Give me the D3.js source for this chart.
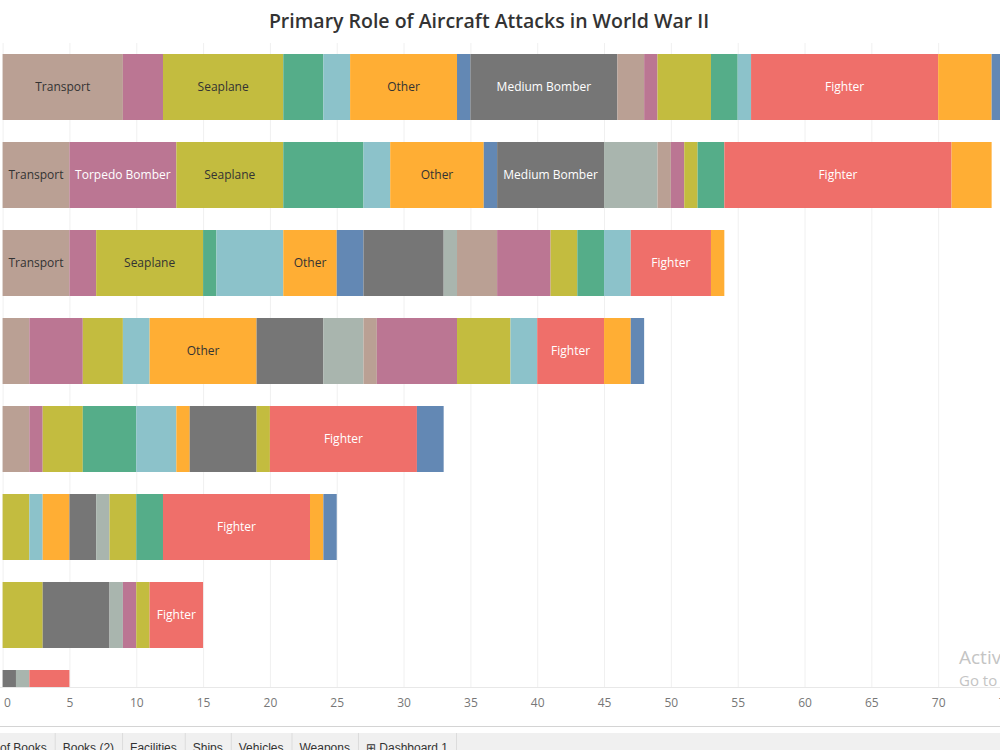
<!DOCTYPE html>
<meta charset="utf-8">
<script src="https://d3js.org/d3.v7.min.js"></script>
<style>
  body { margin: 0; background: #fff; overflow: hidden; }
</style>
<div id="chart"></div>
<script>
  // roles, in the order they are stacked from the left
  const roles = ["Transport", "Torpedo Bomber", "Seaplane", "Reconnaissance", "Patrol Bomber", "Other",
    "Night Fighter", "Medium Bomber", "Light Bomber", "Liaison", "Kamikaze", "Heavy Bomber",
    "Ground Attack", "Flying Boat", "Fighter", "Dive Bomber", "Bomber"];
  const roleColors = ["#baa094", "#bb7693", "#c3bc3f", "#55ad89", "#8cc2ca", "#ffae34",
    "#6388b4", "#767676", "#a9b5ae", "#baa094", "#bb7693", "#c3bc3f",
    "#55ad89", "#8cc2ca", "#ef6f6a", "#ffae34", "#6388b4"];
  // only these get a mark label (when it fits)
  const labelledRoles = ["Transport", "Torpedo Bomber", "Seaplane", "Other", "Medium Bomber", "Fighter"];

  // attacks per role, one array per bar (top to bottom), same order as roles
  const bar1 = [9, 3, 9, 3, 2, 8, 1, 11, 0, 2, 1, 4, 2, 1, 14, 4, 1];
  const bar2 = [5, 8, 8, 6, 2, 7, 1, 8, 4, 1, 1, 1, 2, 0, 17, 3, 0];
  const bar3 = [5, 2, 8, 1, 5, 4, 2, 6, 1, 3, 4, 2, 2, 2, 6, 1, 0];
  const bar4 = [2, 4, 3, 0, 2, 8, 0, 5, 3, 1, 6, 4, 0, 2, 5, 2, 1];
  const bar5 = [2, 1, 3, 4, 3, 1, 0, 5, 0, 0, 0, 1, 0, 0, 11, 0, 2];
  const bar6 = [0, 0, 2, 0, 1, 2, 0, 2, 1, 0, 0, 2, 2, 0, 11, 1, 1];
  const bar7 = [0, 0, 3, 0, 0, 0, 0, 5, 1, 0, 1, 1, 0, 0, 4, 0, 0];
  const bar8 = [0, 0, 0, 0, 0, 0, 0, 1, 1, 0, 0, 0, 0, 0, 3, 0, 0];
  const bars = [bar1, bar2, bar3, bar4, bar5, bar6, bar7, bar8];

  const xTicks = [0, 5, 10, 15, 20, 25, 30, 35, 40, 45, 50, 55, 60, 65, 70, 75];
  const tabs = ["of Books", "Books (2)", "Facilities", "Ships", "Vehicles", "Weapons", "\u229e Dashboard 1"];

  const width = 1000, height = 750;
  const plotTop = 43, plotBottom = 687;

  const svg = d3.select("#chart")
    .append("svg")
    .attr("width", width)
    .attr("height", height)
    .style("font-family", "'Open Sans', sans-serif");

  const x = d3.scaleLinear().domain([0, 75]).range([2.6, 1005]);
  const y = d3.scaleBand()
    .domain(d3.range(bars.length))
    .range([plotTop, plotTop + 88 * bars.length])
    .paddingInner(0.25)
    .paddingOuter(0.125);
  const color = d3.scaleOrdinal().domain(roles).range(roleColors);

  // title
  svg.append("text")
    .attr("x", 489)
    .attr("y", 28)
    .attr("text-anchor", "middle")
    .style("font-size", "19.5px")
    .style("font-weight", 600)
    .style("fill", "#333")
    .text("Primary Role of Aircraft Attacks in World War II");

  svg.append("clipPath").attr("id", "plot")
    .append("rect")
    .attr("x", 0).attr("y", plotTop)
    .attr("width", width).attr("height", plotBottom - plotTop);

  // grid lines
  svg.append("g")
    .selectAll("line")
    .data(xTicks)
    .join("line")
    .attr("x1", d => x(d) + 0.5).attr("x2", d => x(d) + 0.5)
    .attr("y1", plotTop).attr("y2", plotBottom)
    .attr("stroke", "#f0f0f0");

  // stacked bars
  const rows = bars.map(b => Object.fromEntries(roles.map((r, i) => [r, b[i]])));
  const series = d3.stack().keys(roles)(rows);

  const plot = svg.append("g").attr("clip-path", "url(#plot)");

  const seg = plot.selectAll("g")
    .data(series)
    .join("g")
    .attr("fill", s => color(s.key))
    .selectAll("g")
    .data(s => s.map((d, i) => ({ key: s.key, x0: d[0], x1: d[1], row: i })).filter(d => d.x1 > d.x0))
    .join("g");

  seg.append("rect")
    .attr("x", d => x(d.x0))
    .attr("y", d => y(d.row))
    .attr("width", d => x(d.x1) - x(d.x0))
    .attr("height", y.bandwidth());

  // mark labels
  seg.filter(d => labelledRoles.includes(d.key))
    .append("text")
    .attr("x", d => (x(d.x0) + x(d.x1)) / 2)
    .attr("y", d => y(d.row) + y.bandwidth() / 2)
    .attr("dy", "0.35em")
    .attr("text-anchor", "middle")
    .style("font-size", "12px")
    .style("fill", d => d3.lab(color(d.key)).l < 65 ? "#fff" : "#333")
    .text(d => d.key)
    .each(function (d) {
      const w = this.getComputedTextLength();
      if (w + 8 > x(d.x1) - x(d.x0)) d3.select(this).remove();
    });

  // axis
  svg.append("line")
    .attr("x1", 0).attr("x2", width)
    .attr("y1", plotBottom + 0.5).attr("y2", plotBottom + 0.5)
    .attr("stroke", "#e8e8e8");

  const axis = svg.append("g")
    .attr("transform", `translate(0,${plotBottom})`)
    .call(d3.axisBottom(x).tickValues(xTicks).tickSize(0).tickPadding(11));
  axis.select(".domain").remove();
  axis.selectAll("text")
    .style("font-family", "'Open Sans', sans-serif")
    .style("font-size", "12px")
    .style("fill", "#777")
    .filter(d => d === 0)
    .attr("text-anchor", "start")
    .attr("x", 1);

  // watermark
  svg.append("text").attr("x", 959).attr("y", 664)
    .style("font-size", "19px").style("fill", "#c4c4c4").text("Activ");
  svg.append("text").attr("x", 959).attr("y", 686)
    .style("font-size", "15px").style("fill", "#c4c4c4").text("Go to");

  // sheet tabs at the bottom
  svg.append("line")
    .attr("x1", 0).attr("x2", width)
    .attr("y1", 726.5).attr("y2", 726.5)
    .attr("stroke", "#d4d4d4");
  svg.append("rect")
    .attr("x", 0).attr("y", 733)
    .attr("width", width).attr("height", height - 733)
    .attr("fill", "#f0f0f0");

  let tx = -8;
  tabs.forEach(t => {
    const label = svg.append("text")
      .attr("x", tx + 8)
      .attr("y", 752)
      .style("font-family", "'Liberation Sans', Arial, sans-serif")
      .style("font-size", "12px")
      .style("fill", "#333")
      .text(t);
    const w = label.node().getComputedTextLength();
    tx += 8 + w + 8;
    svg.append("line")
      .attr("x1", tx + 0.5).attr("x2", tx + 0.5)
      .attr("y1", 733).attr("y2", height)
      .attr("stroke", "#dcdcdc");
  });
</script>
